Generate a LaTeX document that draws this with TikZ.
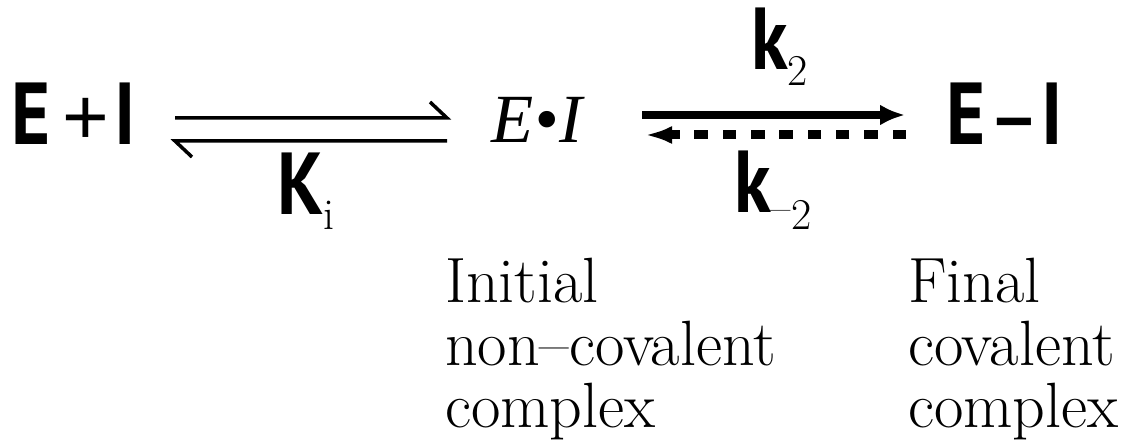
\documentclass[tikz,border=0pt]{standalone}
\usepackage{fontspec}
\newfontfamily\ptb{PT Sans}[FakeStretch=0.85]
\newfontfamily\timesf{Liberation Serif}
\newfontfamily\plusf{Liberation Sans}
\usetikzlibrary{arrows.meta}
\newcommand\lowsub[2]{\raisebox{-#1}{\fontsize{44}{44}\selectfont\rmfamily\mdseries #2}}
\tikzset{
  bigsans/.style={font=\ptb\bfseries\fontsize{88}{90}\selectfont, inner sep=0pt, anchor=base west},
  bigital/.style={font=\timesf\itshape\fontsize{69}{80}\selectfont, inner sep=0pt, anchor=base west},
  lowtext/.style={font=\fontsize{64}{62.5}\selectfont, inner sep=0pt, anchor=base west, align=left},
  eqline/.style={line width=3.5pt, line join=miter},
  fwd/.style={line width=8pt, -{Latex[length=25pt,width=21pt]}},
  backd/.style={line width=9pt, dash pattern=on 13.5pt off 14.8pt, -{Latex[length=27pt,width=18pt]}},
}
\begin{document}
\begin{tikzpicture}[x=1pt,y=-1pt]
  \path[use as bounding box, fill=white] (0,0) rectangle (1144,443);
  % species
  \node[bigsans] (ei) at (11,145) {\makebox[51pt][l]{E}\makebox[52pt][l]{\plusf\mdseries\fontsize{80}{80}\selectfont +}I};
  \node[bigital] (cplx) at (491,143) {E\hspace{1pt}•\hspace{1pt}I};
  \node[bigsans] (cov) at (946,145) {\makebox[48pt][l]{E}\makebox[47pt][l]{\plusf\bfseries\fontsize{68}{68}\selectfont −}I};
  % rate labels
  \node[bigsans] (ki) at (277,215) {K\lowsub{15pt}{i}};
  \node[bigsans] (k2) at (751,70) {k\lowsub{16pt}{2}};
  \node[bigsans] (km2) at (734,213) {k\lowsub{17pt}{\raisebox{7pt}{–}2}};
  % descriptions (base = last line)
  \node[lowtext] (d1) at (445,428) {Initial\\non–covalent\\complex};
  \node[lowtext] (d2) at (908,428) {Final\\covalent\\complex};
  % equilibrium harpoons
  \coordinate (h1a) at (175,118);
  \coordinate (h1b) at (447,118);
  \coordinate (h2a) at (447,141);
  \coordinate (h2b) at (175,141);
  \draw[eqline] (h1a) -- (h1b) -- ++(-17,-16);
  \draw[eqline] (h2a) -- (h2b) -- ++(17,16);
  % covalent step
  \coordinate (f1) at (642,115);
  \coordinate (f2) at (905,115);
  \coordinate (b1) at (906,135);
  \coordinate (b2) at (645,135);
  \draw[fwd] (f1) -- (f2);
  \draw[backd] (b1) -- (b2);
\end{tikzpicture}
\end{document}
